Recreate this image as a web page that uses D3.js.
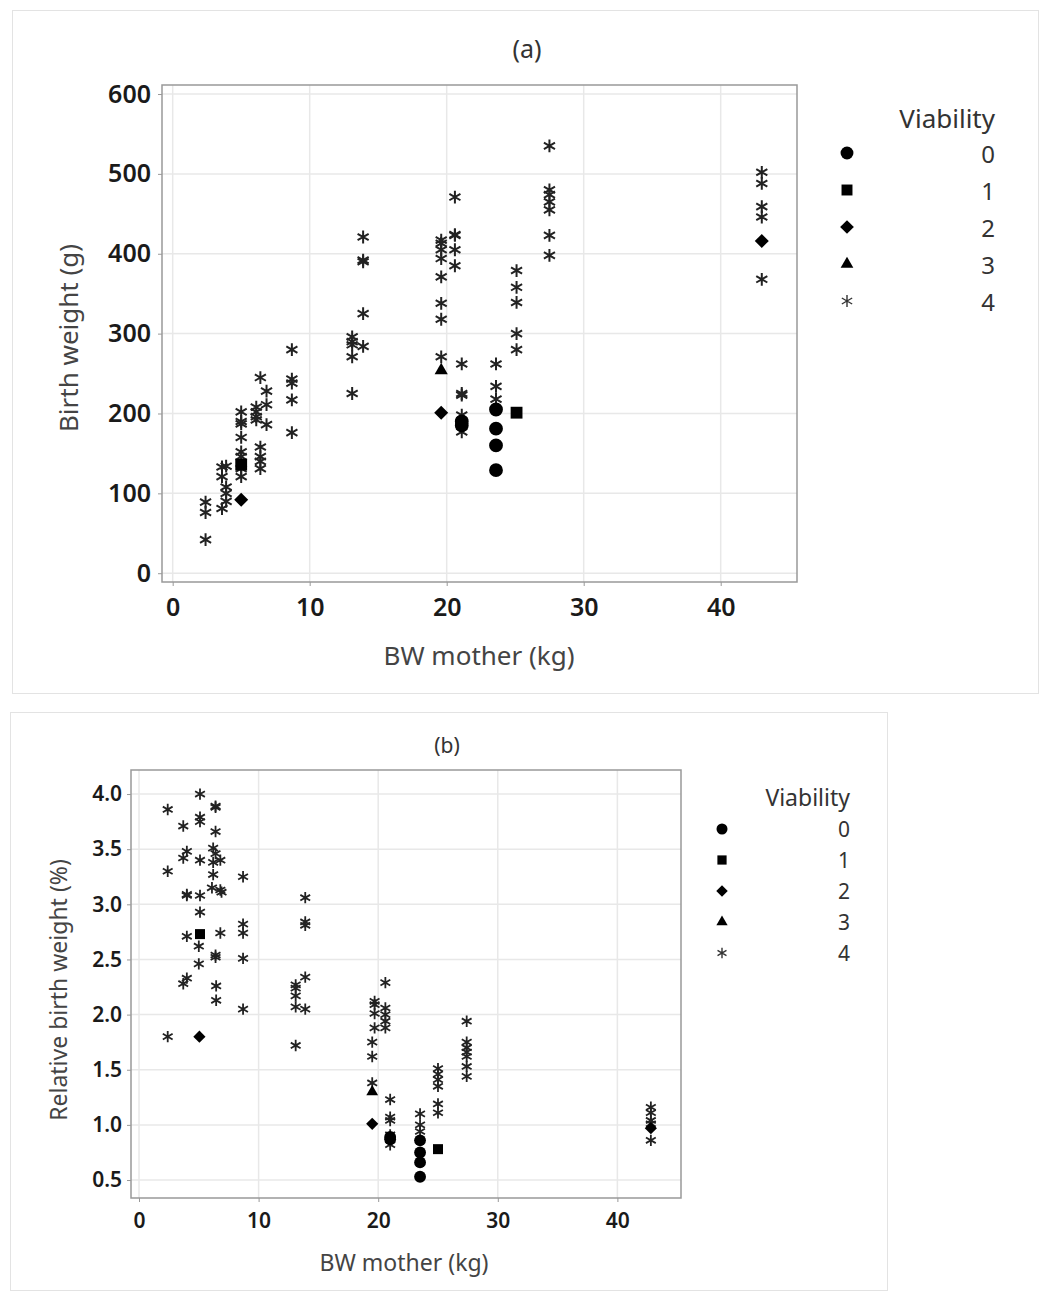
<!DOCTYPE html>
<html lang="en">
<head>
<meta charset="UTF-8">
<title>Birth weight vs BW mother</title>
<script src="https://cdn.jsdelivr.net/npm/d3@7"></script>
<style>
    body { margin: 0; background: #fff; }
    text { font-family: "Noto Sans", "Open Sans", sans-serif; }
</style>
</head>
<body>
<svg width="1041" height="1291"></svg>
<script>
    // viability classes and their marker
    const viabilityLevels = [0, 1, 2, 3, 4];
    const xTicks = [0, 10, 20, 30, 40];

    // panel (a): birth weight (g) against body weight of the mother (kg)
    const motherA = [
        2.4, 2.4, 2.4,
        3.6, 3.6, 3.6,
        3.9, 3.9, 3.9, 3.9,
        5.0, 5.0, 5.0, 5.0, 5.0, 5.0, 5.0, 5.0, 5.0, 5.0,
        6.1, 6.1, 6.1, 6.1,
        6.4, 6.4, 6.4, 6.4, 6.4,
        6.85, 6.85, 6.85,
        8.7, 8.7, 8.7, 8.7, 8.7,
        13.1, 13.1, 13.1, 13.1, 13.1,
        13.9, 13.9, 13.9, 13.9, 13.9,
        19.6, 19.6, 19.6, 19.6, 19.6, 19.6, 19.6, 19.6, 19.6, 19.6,
        20.6, 20.6, 20.6, 20.6, 20.6,
        21.1, 21.1, 21.1, 21.1, 21.1, 21.1, 21.1, 21.1,
        23.6, 23.6, 23.6, 23.6, 23.6, 23.6, 23.6,
        25.1, 25.1, 25.1, 25.1, 25.1, 25.1,
        27.5, 27.5, 27.5, 27.5, 27.5, 27.5, 27.5,
        43, 43, 43, 43, 43, 43
    ];
    const weightA = [
        89, 76, 42,
        133, 121, 81,
        134, 108, 100, 90,
        202, 190, 187, 170, 152, 146, 131, 121, 136, 92,
        208, 202, 196, 192,
        245, 158, 146, 140, 131,
        228, 211, 186,
        280, 243, 238, 217, 176,
        296, 290, 286, 271, 225,
        421, 392, 390, 325, 284,
        417, 413, 405, 394, 371, 338, 318, 271, 254, 201,
        471, 424, 423, 405, 385,
        262, 225, 223, 198, 186, 177, 190, 185,
        262, 234, 218, 205, 181, 160, 129,
        379, 358, 339, 300, 280, 201,
        535, 480, 474, 465, 455, 423, 398,
        502, 488, 459, 446, 368, 416
    ];
    const viabA = [
        4, 4, 4,
        4, 4, 4,
        4, 4, 4, 4,
        4, 4, 4, 4, 4, 4, 4, 4, 1, 2,
        4, 4, 4, 4,
        4, 4, 4, 4, 4,
        4, 4, 4,
        4, 4, 4, 4, 4,
        4, 4, 4, 4, 4,
        4, 4, 4, 4, 4,
        4, 4, 4, 4, 4, 4, 4, 4, 3, 2,
        4, 4, 4, 4, 4,
        4, 4, 4, 4, 4, 4, 0, 0,
        4, 4, 4, 0, 0, 0, 0,
        4, 4, 4, 4, 4, 1,
        4, 4, 4, 4, 4, 4, 4,
        4, 4, 4, 4, 4, 2
    ];

    // panel (b): relative birth weight (%) against body weight of the mother (kg)
    const motherB = [
        2.4, 2.4, 2.4,
        3.7, 3.7, 3.7,
        4.0, 4.0, 4.0, 4.0, 4.0,
        5.1, 5.1, 5.1, 5.1, 5.1, 5.1, 5.0, 5.0, 5.1, 5.05,
        6.2, 6.2, 6.2, 6.1,
        6.4, 6.4, 6.4, 6.4, 6.4, 6.4, 6.45, 6.45,
        6.8, 6.8, 6.8, 6.9,
        8.7, 8.7, 8.7, 8.7, 8.7,
        13.1, 13.1, 13.1, 13.1, 13.1,
        13.9, 13.9, 13.9, 13.9, 13.9,
        19.7, 19.7, 19.7, 19.7, 19.5, 19.5, 19.5, 19.5, 19.5,
        20.6, 20.6, 20.6, 20.6, 20.6,
        21.0, 21.0, 21.0, 21.0, 21.0, 21.0, 21.0, 21.0,
        23.5, 23.5, 23.5, 23.5, 23.5, 23.5, 23.5,
        25.0, 25.0, 25.0, 25.0, 25.0, 25.0, 25.0,
        27.4, 27.4, 27.4, 27.4, 27.4, 27.4, 27.4,
        42.8, 42.8, 42.8, 42.8, 42.8, 42.8
    ];
    const relB = [
        3.86, 3.30, 1.80,
        3.71, 3.42, 2.28,
        3.48, 3.08, 2.71, 2.33, 3.09,
        4.00, 3.79, 3.75, 3.40, 3.08, 2.93, 2.62, 2.46, 2.73, 1.80,
        3.51, 3.38, 3.27, 3.15,
        3.89, 3.88, 3.66, 3.46, 2.54, 2.52, 2.26, 2.13,
        3.40, 3.13, 2.74, 3.11,
        3.25, 2.82, 2.74, 2.51, 2.05,
        2.27, 2.24, 2.17, 2.07, 1.72,
        3.06, 2.84, 2.81, 2.34, 2.05,
        2.12, 2.09, 2.01, 1.88, 1.75, 1.62, 1.38, 1.30, 1.01,
        2.29, 2.06, 2.00, 1.94, 1.88,
        1.23, 1.07, 1.04, 0.91, 0.88, 0.82, 0.89, 0.87,
        1.10, 1.00, 0.94, 0.86, 0.75, 0.66, 0.53,
        1.51, 1.46, 1.41, 1.35, 1.19, 1.11, 0.78,
        1.94, 1.75, 1.70, 1.66, 1.62, 1.53, 1.44,
        1.16, 1.11, 1.04, 1.01, 0.86, 0.97
    ];
    const viabB = [
        4, 4, 4,
        4, 4, 4,
        4, 4, 4, 4, 4,
        4, 4, 4, 4, 4, 4, 4, 4, 1, 2,
        4, 4, 4, 4,
        4, 4, 4, 4, 4, 4, 4, 4,
        4, 4, 4, 4,
        4, 4, 4, 4, 4,
        4, 4, 4, 4, 4,
        4, 4, 4, 4, 4,
        4, 4, 4, 4, 4, 4, 4, 3, 2,
        4, 4, 4, 4, 4,
        4, 4, 4, 4, 4, 4, 0, 0,
        4, 4, 4, 0, 0, 0, 0,
        4, 4, 4, 4, 4, 4, 1,
        4, 4, 4, 4, 4, 4, 4,
        4, 4, 4, 4, 4, 2
    ];
    const yTicksA = [0, 100, 200, 300, 400, 500, 600];
    const yTicksB = [0.5, 1.0, 1.5, 2.0, 2.5, 3.0, 3.5, 4.0];

    const shapes = [d3.symbolCircle, d3.symbolSquare, d3.symbolDiamond2, d3.symbolTriangle, d3.symbolAsterisk];

    const svg = d3.select("svg");

    function drawPanel(cfg) {
        const g = svg.append("g");

        // outer panel frame
        g.append("rect")
            .attr("x", cfg.frame[0] + 0.5).attr("y", cfg.frame[1] + 0.5)
            .attr("width", cfg.frame[2]).attr("height", cfg.frame[3])
            .attr("fill", "#fff").attr("stroke", "#e3e3e3");

        const x = d3.scaleLinear().domain(cfg.xDomain).range([cfg.plot.l, cfg.plot.r]);
        const y = d3.scaleLinear().domain(cfg.yDomain).range([cfg.plot.b, cfg.plot.t]);

        // gridlines
        g.append("g").selectAll("line").data(cfg.xTicks).enter().append("line")
            .attr("x1", d => x(d)).attr("x2", d => x(d))
            .attr("y1", cfg.plot.t).attr("y2", cfg.plot.b)
            .attr("stroke", "#e8e8e8").attr("stroke-width", 1.5);
        g.append("g").selectAll("line").data(cfg.yTicks).enter().append("line")
            .attr("x1", cfg.plot.l).attr("x2", cfg.plot.r)
            .attr("y1", d => y(d)).attr("y2", d => y(d))
            .attr("stroke", "#e8e8e8").attr("stroke-width", 1.5);

        // axes
        const xAxis = d3.axisBottom(x).tickValues(cfg.xTicks).tickSize(4).tickPadding(cfg.xPad);
        const yAxis = d3.axisLeft(y).tickValues(cfg.yTicks).tickSize(4).tickPadding(cfg.yPad)
            .tickFormat(cfg.yFormat);
        const ax = g.append("g").attr("transform", `translate(0,${cfg.plot.b})`).call(xAxis);
        const ay = g.append("g").attr("transform", `translate(${cfg.plot.l},0)`).call(yAxis);
        [ax, ay].forEach(a => {
            a.select(".domain").remove();
            a.selectAll("line").attr("stroke", "#999");
            a.selectAll("text").attr("font-size", cfg.tickFont).attr("fill", "#1a1a1a")
                .attr("font-weight", 600)
                .attr("font-family", "'Noto Sans', sans-serif");
        });

        // plot border
        g.append("rect")
            .attr("x", cfg.plot.l).attr("y", cfg.plot.t)
            .attr("width", cfg.plot.r - cfg.plot.l).attr("height", cfg.plot.b - cfg.plot.t)
            .attr("fill", "none").attr("stroke", "#999").attr("stroke-width", 1.5);

        // points
        const pts = cfg.xs.map((d, i) => ({x: d, y: cfg.ys[i], v: cfg.vs[i]}));
        g.append("g").selectAll("path").data(pts).enter().append("path")
            .attr("transform", d => `translate(${x(d.x)},${y(d.y)})`)
            .attr("d", d => d3.symbol().type(shapes[d.v]).size(cfg.sizes[d.v])())
            .attr("fill", d => d.v === 4 ? "none" : "#000")
            .attr("stroke", d => d.v === 4 ? "#222" : "none")
            .attr("stroke-width", cfg.starWidth);

        // titles
        g.append("text").attr("x", cfg.title[0]).attr("y", cfg.title[1])
            .attr("text-anchor", "middle").attr("dominant-baseline", "central")
            .attr("font-size", cfg.titleFont).attr("fill", "#333").text(cfg.titleText);
        g.append("text").attr("x", cfg.xLabel[0]).attr("y", cfg.xLabel[1])
            .attr("text-anchor", "middle").attr("dominant-baseline", "central")
            .attr("font-size", cfg.labelFont).attr("fill", "#444").text("BW mother (kg)");
        g.append("text")
            .attr("transform", `translate(${cfg.yLabel[0]},${cfg.yLabel[1]}) rotate(-90)`)
            .attr("text-anchor", "middle").attr("dominant-baseline", "central")
            .attr("font-size", cfg.labelFont).attr("fill", "#444").text(cfg.yLabelText);

        // legend
        const lg = g.append("g");
        lg.append("text").attr("x", cfg.legend.right).attr("y", cfg.legend.head)
            .attr("text-anchor", "end").attr("dominant-baseline", "central")
            .attr("font-size", cfg.legend.headFont).attr("fill", "#333").text("Viability");
        const items = lg.selectAll("g.item").data(viabilityLevels).enter().append("g")
            .attr("transform", (d, i) => `translate(0,${cfg.legend.first + i * cfg.legend.step})`);
        items.append("path")
            .attr("transform", `translate(${cfg.legend.sym},0)`)
            .attr("d", d => d3.symbol().type(shapes[d]).size(cfg.legend.sizes[d])())
            .attr("fill", d => d === 4 ? "none" : "#000")
            .attr("stroke", d => d === 4 ? "#333" : "none")
            .attr("stroke-width", 1.4);
        items.append("text").attr("x", cfg.legend.right).attr("y", 0)
            .attr("text-anchor", "end").attr("dominant-baseline", "central")
            .attr("font-size", cfg.legend.font).attr("fill", "#333").text(d => d);
    }

    drawPanel({
        frame: [12, 10, 1026, 683],
        plot: {l: 162, t: 85, r: 797, b: 582},
        xDomain: [-0.78, 45.57], yDomain: [-11, 611.3],
        xTicks: xTicks, yTicks: yTicksA, yFormat: d3.format("d"),
        tickFont: 25, xPad: 12, yPad: 7,
        xs: motherA, ys: weightA, vs: viabA,
        sizes: [150, 140, 125, 75, 115], starWidth: 2,
        title: [527, 48], titleText: "(a)", titleFont: 25,
        xLabel: [479, 655], yLabel: [68, 338], yLabelText: "Birth weight (g)", labelFont: 26,
        legend: {right: 995, head: 118, first: 153, step: 37, sym: 847, font: 24, headFont: 26,
                 sizes: [130, 120, 120, 70, 100]}
    });

    drawPanel({
        frame: [10, 712, 877, 578],
        plot: {l: 131, t: 770, r: 681, b: 1198},
        xDomain: [-0.67, 45.32], yDomain: [0.337, 4.218],
        xTicks: xTicks, yTicks: yTicksB, yFormat: d3.format(".1f"),
        tickFont: 21, xPad: 11, yPad: 5,
        xs: motherB, ys: relB, vs: viabB,
        sizes: [110, 100, 95, 60, 90], starWidth: 1.8,
        title: [447, 745], titleText: "(b)", titleFont: 21,
        xLabel: [404, 1262], yLabel: [58, 990], yLabelText: "Relative birth weight (%)", labelFont: 23,
        legend: {right: 850, head: 797, first: 829, step: 31, sym: 722, font: 21, headFont: 23,
                 sizes: [95, 85, 85, 55, 75]}
    });
</script>
</body>
</html>
